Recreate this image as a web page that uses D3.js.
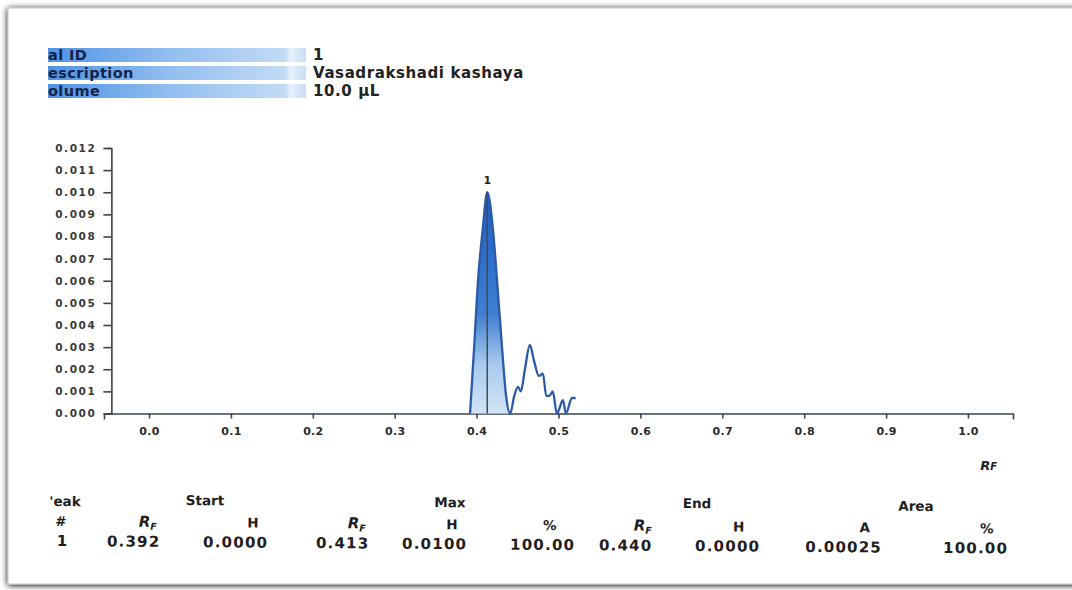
<!DOCTYPE html>
<html>
<head>
<meta charset="utf-8">
<script src="https://d3js.org/d3.v7.min.js"></script>
<style>
  body { margin: 0; background: #ffffff; }
  svg { display: block; }
</style>
</head>
<body>
<div id="chart"></div>
<script>

// header info (left part of the labels is cut off in the scan)
const infoLabels = ["al ID", "escription", "olume"]
const infoValues = ["1", "Vasadrakshadi kashaya", "10.0 \u00b5L"]

// densitogram trace, Rf vs height (AU)
const traceRf = [0.392, 0.397, 0.4017, 0.4074, 0.413, 0.420, 0.425, 0.431, 0.436, 0.441,
    0.446, 0.4505, 0.454, 0.459, 0.465, 0.470, 0.476, 0.481, 0.485, 0.489, 0.493, 0.498,
    0.5055, 0.509, 0.5165, 0.521]
const traceH = [0.0000, 0.0030, 0.0060, 0.0083, 0.0100, 0.0083, 0.0060, 0.0030, 0.0008, 0.0000,
    0.0008, 0.0012, 0.0010, 0.0020, 0.0031, 0.0024, 0.0017, 0.0018, 0.0008, 0.0008, 0.0010, 0.0000,
    0.0006, 0.0000, 0.0007, 0.0007]

// peak table
const peakNo = ["1"]
const startRf = [0.392], startH = [0.0000]
const maxRf = [0.413], maxH = [0.0100], maxPct = [100.00]
const endRf = [0.440], endH = [0.0000]
const areaA = [0.00025], areaPct = [100.00]

const xTicks = [0.0, 0.1, 0.2, 0.3, 0.4, 0.5, 0.6, 0.7, 0.8, 0.9, 1.0]
const yTicks = [0, 0.001, 0.002, 0.003, 0.004, 0.005, 0.006, 0.007, 0.008, 0.009, 0.010, 0.011, 0.012]

var width = 1072, height = 590

var svg = d3.select("#chart")
    .append("svg")
    .attr("width", width)
    .attr("height", height)
    .style("font-family", "'DejaVu Sans', Verdana, sans-serif")

var defs = svg.append("defs")

var shadow = defs.append("filter").attr("id", "shadow")
    .attr("x", "-5%").attr("y", "-5%").attr("width", "110%").attr("height", "110%")
shadow.append("feGaussianBlur").attr("in", "SourceAlpha").attr("stdDeviation", 3)
shadow.append("feOffset").attr("dx", 0).attr("dy", 1).attr("result", "b")
var merge = shadow.append("feMerge")
merge.append("feMergeNode").attr("in", "b")
merge.append("feMergeNode").attr("in", "SourceGraphic")

var barGrad = defs.append("linearGradient").attr("id", "barGrad")
barGrad.append("stop").attr("offset", "0%").attr("stop-color", "#4f93e4")
barGrad.append("stop").attr("offset", "45%").attr("stop-color", "#8fbcef")
barGrad.append("stop").attr("offset", "92%").attr("stop-color", "#c2dbf5")
barGrad.append("stop").attr("offset", "94%").attr("stop-color", "#e6f0fb")
barGrad.append("stop").attr("offset", "100%").attr("stop-color", "#c9def4")

var peakGrad = defs.append("linearGradient").attr("id", "peakGrad")
    .attr("x1", 0).attr("x2", 0).attr("y1", 0).attr("y2", 1)
peakGrad.append("stop").attr("offset", "0%").attr("stop-color", "#1d5fc2")
peakGrad.append("stop").attr("offset", "55%").attr("stop-color", "#3f7fd0")
peakGrad.append("stop").attr("offset", "78%").attr("stop-color", "#a9caef")
peakGrad.append("stop").attr("offset", "100%").attr("stop-color", "#d2e4f7")

// page frame
svg.append("rect")
    .attr("x", 8).attr("y", 8)
    .attr("width", 1090).attr("height", 576)
    .attr("fill", "#fff")
    .attr("stroke", "#c4c4c4")
    .attr("filter", "url(#shadow)")

// header block
var header = svg.append("g")
header.selectAll("rect.bar")
    .data(infoLabels)
    .enter()
    .append("rect")
    .attr("class", "bar")
    .attr("x", 48)
    .attr("y", (d, i) => 48 + i * 18)
    .attr("width", 258)
    .attr("height", 14)
    .attr("fill", "url(#barGrad)")
header.selectAll("text.lab")
    .data(infoLabels)
    .enter()
    .append("text")
    .attr("class", "lab")
    .attr("x", 48)
    .attr("y", (d, i) => 60 + i * 18)
    .attr("font-size", 14.5)
    .attr("font-weight", "bold")
    .attr("letter-spacing", 0.4)
    .attr("fill", "#14234a")
    .text(d => d)
header.selectAll("text.val")
    .data(infoValues)
    .enter()
    .append("text")
    .attr("class", "val")
    .attr("x", 313)
    .attr("y", (d, i) => 60 + i * 18)
    .attr("font-size", 15)
    .attr("font-weight", "bold")
    .attr("letter-spacing", 0.6)
    .attr("fill", "#222")
    .text(d => d)

// scales
var x = d3.scaleLinear().domain([-0.055, 1.055]).range([104, 1013])
var y = d3.scaleLinear().domain([0, 0.012]).range([413.5, 148])

// axes
var xAxis = svg.append("g")
    .attr("transform", "translate(0," + y(0) + ")")
    .call(d3.axisBottom(x).tickValues(xTicks).tickFormat(d3.format(".1f")).tickSize(5).tickSizeOuter(6))
xAxis.select(".domain").attr("stroke", "#3d4450").attr("stroke-width", 1.6)
xAxis.selectAll(".tick line").attr("stroke", "#3d4450").attr("stroke-width", 1.6)
xAxis.selectAll(".tick text")
    .attr("font-size", 11).attr("font-weight", "bold").attr("fill", "#2b2b2b")
    .attr("font-family", "'DejaVu Sans', sans-serif")
    .attr("letter-spacing", 0.3)
    .attr("dy", "1.25em")

var yAxis = svg.append("g")
    .attr("transform", "translate(" + x(-0.046) + ",0)")
    .call(d3.axisLeft(y).tickValues(yTicks).tickFormat(d3.format(".3f")).tickSize(8).tickSizeOuter(5))
yAxis.select(".domain").attr("stroke", "#3d4450").attr("stroke-width", 1.6)
yAxis.selectAll(".tick line").attr("stroke", "#3d4450").attr("stroke-width", 1.6)
yAxis.selectAll(".tick text")
    .attr("font-size", 10.5).attr("font-weight", "bold").attr("fill", "#3a3a3a")
    .attr("font-family", "'DejaVu Sans', sans-serif")
    .attr("letter-spacing", 1.6)
    .attr("x", -15)

// x-axis title R_F
var rfTitle = svg.append("text")
    .attr("x", x(1.015)).attr("y", 470)
    .attr("font-weight", "bold").attr("font-style", "italic").attr("fill", "#222")
rfTitle.append("tspan").attr("font-size", 13).text("R")
rfTitle.append("tspan").attr("font-size", 10).text("F")

// trace
var pts = traceRf.map((r, i) => ({rf: r, h: traceH[i]}))
var peakPts = pts.filter(d => d.rf >= startRf[0] && d.rf <= endRf[0] + 0.0011)

svg.append("path")
    .datum(peakPts)
    .attr("d", d3.area().x(d => x(d.rf)).y0(y(0)).y1(d => y(d.h)).curve(d3.curveMonotoneX))
    .attr("fill", "url(#peakGrad)")

svg.append("path")
    .datum(pts)
    .attr("d", d3.line().x(d => x(d.rf)).y(d => y(d.h)).curve(d3.curveMonotoneX))
    .attr("fill", "none")
    .attr("stroke", "#2a5aa8")
    .attr("stroke-width", 2.3)

// max marker line and peak number
svg.append("line")
    .attr("x1", x(maxRf[0])).attr("x2", x(maxRf[0]))
    .attr("y1", y(0)).attr("y2", y(maxH[0]))
    .attr("stroke", "#4a4a4a").attr("stroke-width", 1.5)
svg.append("text")
    .attr("x", x(maxRf[0])).attr("y", y(maxH[0]) - 8)
    .attr("text-anchor", "middle")
    .attr("font-size", 11).attr("font-weight", "bold").attr("fill", "#222")
    .text(peakNo[0])

// peak table (scan is slightly tilted)
var table = svg.append("g").attr("transform", "rotate(0.45, 48, 500)")
var tstyle = (s) => s.attr("font-weight", "bold").attr("fill", "#1e1e1e")

function tText(xp, yp, txt, size, spacing) {
    return table.append("text")
        .attr("x", xp).attr("y", yp)
        .attr("font-size", size)
        .attr("letter-spacing", spacing || 0)
        .attr("text-anchor", "middle")
        .call(tstyle)
        .text(txt)
}
function tRf(xp, yp) {
    var t = table.append("text").attr("x", xp).attr("y", yp)
        .attr("text-anchor", "middle").attr("font-style", "italic").call(tstyle)
    t.append("tspan").attr("font-size", 15).text("R")
    t.append("tspan").attr("font-size", 9.5).attr("dy", 3).text("F")
}

// group headers
tText(65, 506, "'eak", 13.5)
tText(205, 504, "Start", 13.5)
tText(450, 504, "Max", 13.5)
tText(697, 503, "End", 13.5)
tText(916, 504, "Area", 13.5)

// column headers
tText(61, 526, "#", 13.5)
tRf(148, 526)
tText(253, 526, "H", 13.5)
tRf(357, 526)
tText(452, 526, "H", 13.5)
tText(550, 526, "%", 13.5)
tRf(643, 526)
tText(739, 526, "H", 13.5)
tText(865, 526, "A", 13.5)
tText(987, 526, "%", 13.5)

// values
var fmt4 = d3.format(".4f"), fmt3 = d3.format(".3f"), fmt2 = d3.format(".2f"), fmt5 = d3.format(".5f")
peakNo.forEach((p, i) => {
    var yy = 546 + i * 20
    tText(63, yy, p, 15, 1.2)
    tText(134, yy, fmt3(startRf[i]), 15, 1.2)
    tText(236, yy, fmt4(startH[i]), 15, 1.2)
    tText(343, yy, fmt3(maxRf[i]), 15, 1.2)
    tText(435, yy, fmt4(maxH[i]), 15, 1.2)
    tText(543, yy, fmt2(maxPct[i]), 15, 1.2)
    tText(626, yy, fmt3(endRf[i]), 15, 1.2)
    tText(728, yy, fmt4(endH[i]), 15, 1.2)
    tText(844, yy, fmt5(areaA[i]), 15, 1.2)
    tText(976, yy, fmt2(areaPct[i]), 15, 1.2)
})

</script>
</body>
</html>
